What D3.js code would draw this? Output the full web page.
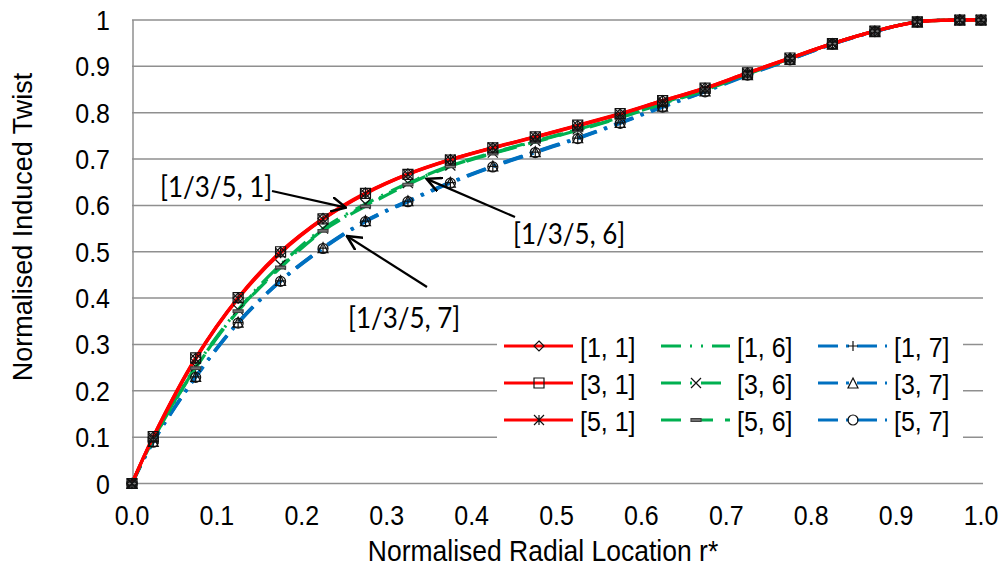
<!DOCTYPE html>
<html>
<head>
<meta charset="utf-8">
<script src="https://cdn.jsdelivr.net/npm/d3@7"></script>
<style>
    body { margin: 0; background: #fff; }
    text { font-family: "Liberation Sans", Arial, sans-serif; fill: #000; }
    .note { font-family: "Lato", "Liberation Sans", sans-serif; }
</style>
</head>
<body>
<div id="chart"></div>
<script>
var radial = [0, 0.025, 0.075, 0.125, 0.175, 0.225, 0.275, 0.325, 0.375, 0.425, 0.475,
    0.525, 0.575, 0.625, 0.675, 0.725, 0.775, 0.825, 0.875, 0.925, 0.975, 1.0];

var twist11 = [0, 0.100, 0.270, 0.400, 0.499, 0.572, 0.627, 0.668, 0.699, 0.724, 0.747,
    0.772, 0.797, 0.826, 0.853, 0.886, 0.918, 0.949, 0.976, 0.996, 1.0, 1.0];
var twist31 = [0, 0.101, 0.271, 0.401, 0.500, 0.571, 0.626, 0.667, 0.698, 0.724, 0.748,
    0.773, 0.798, 0.826, 0.853, 0.886, 0.918, 0.949, 0.976, 0.996, 1.0, 1.0];
var twist51 = [0, 0.100, 0.269, 0.399, 0.497, 0.570, 0.625, 0.667, 0.699, 0.725, 0.748,
    0.772, 0.797, 0.825, 0.852, 0.885, 0.917, 0.949, 0.976, 0.996, 1.0, 1.0];
var twist16 = [0, 0.095, 0.250, 0.373, 0.468, 0.547, 0.600, 0.647, 0.685, 0.713, 0.738,
    0.763, 0.790, 0.820, 0.850, 0.884, 0.917, 0.949, 0.976, 0.996, 1.0, 1.0];
var twist36 = [0, 0.096, 0.252, 0.375, 0.472, 0.550, 0.603, 0.648, 0.686, 0.714, 0.739,
    0.764, 0.791, 0.821, 0.851, 0.884, 0.917, 0.949, 0.976, 0.996, 1.0, 1.0];
var twist56 = [0, 0.095, 0.249, 0.372, 0.466, 0.545, 0.598, 0.645, 0.684, 0.712, 0.737,
    0.762, 0.789, 0.819, 0.849, 0.883, 0.917, 0.949, 0.976, 0.996, 1.0, 1.0];
var twist17 = [0, 0.090, 0.230, 0.347, 0.437, 0.508, 0.566, 0.609, 0.649, 0.684, 0.715,
    0.745, 0.778, 0.813, 0.846, 0.882, 0.915, 0.948, 0.975, 0.996, 1.0, 1.0];
var twist37 = [0, 0.091, 0.231, 0.348, 0.438, 0.509, 0.567, 0.610, 0.650, 0.685, 0.716,
    0.746, 0.779, 0.814, 0.847, 0.882, 0.915, 0.948, 0.975, 0.996, 1.0, 1.0];
var twist57 = [0, 0.089, 0.229, 0.346, 0.436, 0.507, 0.565, 0.608, 0.648, 0.683, 0.714,
    0.744, 0.777, 0.812, 0.845, 0.881, 0.914, 0.948, 0.975, 0.996, 1.0, 1.0];

var seriesNames = ["[1, 1]", "[3, 1]", "[5, 1]", "[1, 6]", "[3, 6]", "[5, 6]", "[1, 7]", "[3, 7]", "[5, 7]"];
var seriesValues = [twist11, twist31, twist51, twist16, twist36, twist56, twist17, twist37, twist57];
var seriesColors = ["#ff0000", "#ff0000", "#ff0000", "#00b050", "#00b050", "#00b050", "#0070c0", "#0070c0", "#0070c0"];
var seriesDash = ["none", "none", "none", "20,9,2,9,2,9", "20,9,2,9", "20,12", "20,8,3,8", "20,8,3,8", "20,8,3,8"];
var seriesMarker = ["diamond", "square", "star", "none", "cross", "dash", "plus", "triangle", "circle"];

var xTicks = [0, 0.1, 0.2, 0.3, 0.4, 0.5, 0.6, 0.7, 0.8, 0.9, 1.0];
var yTicks = [0, 0.1, 0.2, 0.3, 0.4, 0.5, 0.6, 0.7, 0.8, 0.9, 1];
var yTickLabels = ["0", "0.1", "0.2", "0.3", "0.4", "0.5", "0.6", "0.7", "0.8", "0.9", "1"];

var notes = [
    {label: "[1/3/5, 1]", at: 0.252, on: twist11, tx: 160, ty: 197, fx: 272, fy: 191},
    {label: "[1/3/5, 6]", at: 0.347, on: twist16, tx: 513, ty: 244, fx: 515, fy: 217},
    {label: "[1/3/5, 7]", at: 0.253, on: twist17, tx: 348, ty: 328, fx: 427, fy: 287}
];

var width = 1007,
    height = 571,
    margin = {top: 20, right: 26, bottom: 88, left: 132};

var x = d3.scaleLinear().domain([0, 1]).range([margin.left, width - margin.right]);
var y = d3.scaleLinear().domain([0, 1]).range([height - margin.bottom + 0.5, margin.top]);

var svg = d3.select("#chart").append("svg")
    .attr("width", width)
    .attr("height", height);

svg.append("rect").attr("width", width).attr("height", height).attr("fill", "#fff");

// text that is a little taller than wide, like the original export
function tallText(g, px, py, size, str, anchor) {
    return g.append("text")
        .attr("transform", "translate(" + px + "," + py + ") scale(1,1.12)")
        .attr("text-anchor", anchor || "start")
        .style("font-size", size + "px")
        .text(str);
}

// grid
svg.append("g")
    .selectAll("line")
    .data(yTicks)
    .enter().append("line")
    .attr("x1", x(0))
    .attr("x2", x(1) + 2)
    .attr("y1", function (d) { return y(d); })
    .attr("y2", function (d) { return y(d); })
    .attr("stroke", "#8f8f8f")
    .attr("stroke-width", 1.5);

svg.append("line")
    .attr("x1", x(0) + 1).attr("x2", x(0) + 1)
    .attr("y1", y(1)).attr("y2", y(0))
    .attr("stroke", "#8f8f8f")
    .attr("stroke-width", 1.5);

var yAxisG = svg.append("g");
yTicks.forEach(function (d, i) {
    tallText(yAxisG, 110, y(d) + 10, 25, yTickLabels[i], "end");
});

var xAxisG = svg.append("g");
xTicks.forEach(function (d) {
    tallText(xAxisG, x(d), 525, 25, d3.format(".1f")(d), "middle");
});

tallText(svg, 543, 561, 26.5, "Normalised Radial Location r*", "middle");

svg.append("text")
    .attr("transform", "translate(32," + 227 + ") rotate(-90)")
    .attr("text-anchor", "middle")
    .style("font-size", "27px")
    .text("Normalised Induced Twist");

// lines
var line = d3.line()
    .x(function (d, i) { return x(radial[i]); })
    .y(function (d) { return y(d); })
    .curve(d3.curveCatmullRom.alpha(0.5));

var order = [6, 7, 8, 3, 4, 5, 0, 1, 2];

svg.append("g")
    .selectAll("path")
    .data(order)
    .enter().append("path")
    .attr("d", function (k) { return line(seriesValues[k]); })
    .attr("fill", "none")
    .attr("stroke", function (k) { return seriesColors[k]; })
    .attr("stroke-width", 3.2)
    .attr("stroke-dasharray", function (k) { return seriesDash[k]; });

function markerPath(type) {
    var s = 5;
    switch (type) {
        case "diamond": return "M0," + -s + "L" + s + ",0L0," + s + "L" + -s + ",0Z";
        case "square": return "M" + -s + "," + -s + "h" + 2 * s + "v" + 2 * s + "h" + -2 * s + "Z";
        case "star": return "M0," + -s + "V" + s + "M" + -s + "," + -s + "L" + s + "," + s + "M" + -s + "," + s + "L" + s + "," + -s;
        case "cross": return "M" + -s + "," + -s + "L" + s + "," + s + "M" + -s + "," + s + "L" + s + "," + -s;
        case "plus": return "M" + -s + ",0H" + s + "M0," + -s + "V" + s;
        case "triangle": return "M0," + -s + "L" + s + "," + s + "L" + -s + "," + s + "Z";
        case "circle": return "M" + s + ",0A" + s + "," + s + " 0 1,1 " + -s + ",0A" + s + "," + s + " 0 1,1 " + s + ",0Z";
        case "dash": return "M" + -s + ",-1.3h" + 2 * s + "v2.6h" + -2 * s + "Z";
    }
    return "";
}

function drawMarker(g, type, px, py) {
    g.append("path")
        .attr("transform", "translate(" + px + "," + py + ")")
        .attr("d", markerPath(type))
        .attr("fill", type === "dash" ? "#7f7f7f" : "none")
        .attr("stroke", type === "dash" ? "#404040" : "#111")
        .attr("stroke-width", 1.2);
}

var marks = svg.append("g");
order.forEach(function (k) {
    if (seriesMarker[k] === "none") return;
    seriesValues[k].forEach(function (v, i) {
        drawMarker(marks, seriesMarker[k], x(radial[i]), y(v));
    });
});

// annotations
svg.append("defs").append("marker")
    .attr("id", "arrow")
    .attr("viewBox", "0 -7 14 14")
    .attr("refX", 13)
    .attr("markerWidth", 16)
    .attr("markerHeight", 16)
    .attr("markerUnits", "userSpaceOnUse")
    .attr("orient", "auto")
    .append("path")
    .attr("d", "M0,-6.5L13,0L0,6.5")
    .attr("fill", "none")
    .attr("stroke", "#000")
    .attr("stroke-width", 2.2);

var note = svg.append("g");
notes.forEach(function (n) {
    var lo = d3.bisectLeft(radial, n.at) - 1;
    var t = (n.at - radial[lo]) / (radial[lo + 1] - radial[lo]);
    var vy = n.on[lo] + t * (n.on[lo + 1] - n.on[lo]);
    note.append("line")
        .attr("x1", n.fx).attr("y1", n.fy)
        .attr("x2", x(n.at)).attr("y2", y(vy) + 3)
        .attr("stroke", "#000")
        .attr("stroke-width", 2.2)
        .attr("marker-end", "url(#arrow)");
    note.append("text")
        .attr("class", "note")
        .attr("transform", "translate(" + n.tx + "," + n.ty + ") scale(1,1.1)")
        .style("font-size", "26px")
        .text(n.label);
});

// legend
var legend = svg.append("g");
legend.append("rect")
    .attr("x", 497).attr("y", 330)
    .attr("width", 466).attr("height", 110)
    .attr("fill", "#fff");

seriesNames.forEach(function (name, k) {
    var col = Math.floor(k / 3), row = k % 3;
    var lx = 504 + col * 157, ly = 346 + row * 37;
    legend.append("line")
        .attr("x1", lx).attr("x2", lx + 69)
        .attr("y1", ly).attr("y2", ly)
        .attr("stroke", seriesColors[k])
        .attr("stroke-width", 3.2)
        .attr("stroke-dasharray", seriesDash[k]);
    if (seriesMarker[k] !== "none") drawMarker(legend, seriesMarker[k], lx + 35, ly);
    tallText(legend, lx + 76, ly + 11, 25, name);
});
</script>
</body>
</html>
